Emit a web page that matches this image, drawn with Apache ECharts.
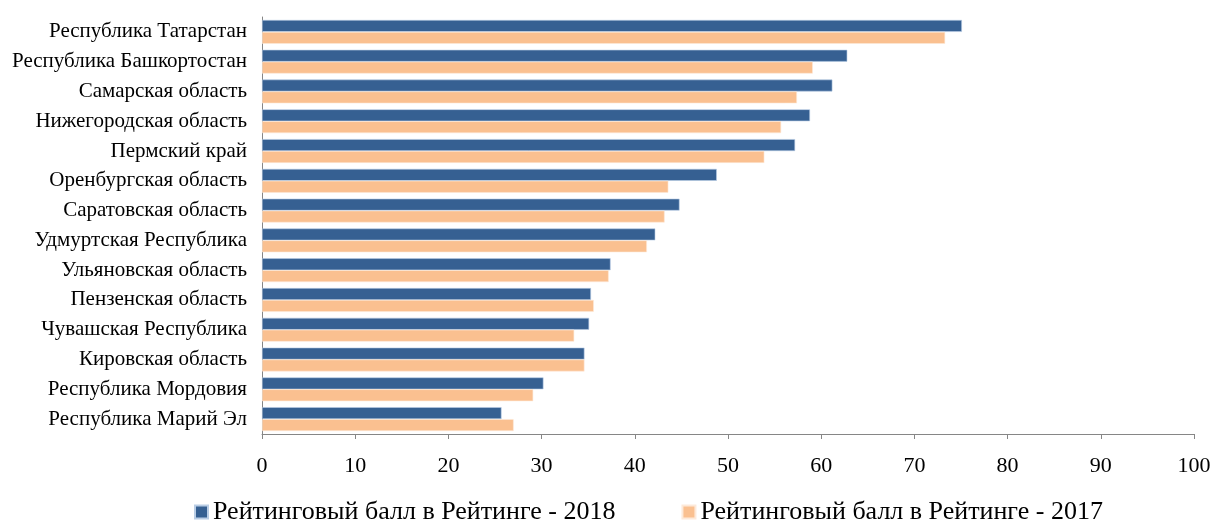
<!DOCTYPE html>
<html><head><meta charset="utf-8">
<script src="https://cdn.jsdelivr.net/npm/echarts@6/dist/echarts.min.js"></script>
<style>html,body{margin:0;padding:0;background:#fff}#c{width:1217px;height:523px}</style>
</head><body><div id="c"></div>
<script>
const categories = ["Республика Татарстан","Республика Башкортостан","Самарская область","Нижегородская область","Пермский край","Оренбургская область","Саратовская область","Удмуртская Республика","Ульяновская область","Пензенская область","Чувашская Республика","Кировская область","Республика Мордовия","Республика Марий Эл"];
const seriesNames = ["Рейтинговый балл в Рейтинге - 2018","Рейтинговый балл в Рейтинге - 2017"];
const values2018 = [75.1, 62.8, 61.2, 58.8, 57.2, 48.8, 44.8, 42.2, 37.4, 35.3, 35.1, 34.6, 30.2, 25.7];
const values2017 = [73.3, 59.1, 57.4, 55.7, 53.9, 43.6, 43.2, 41.3, 37.2, 35.6, 33.5, 34.6, 29.1, 27.0];
const xTicks = [0,10,20,30,40,50,60,70,80,90,100];

const font = "'Liberation Serif','Times New Roman',serif";
const chart = echarts.init(document.getElementById('c'), null, {renderer:'canvas'});
chart.setOption({
  animation:false,
  grid:{left:262,right:23,top:17,bottom:89,containLabel:false},
  legend:{
    top:499, left:194, padding:0, itemWidth:13, itemHeight:13, itemGap:66, icon:'rect',
    textStyle:{fontFamily:font,fontSize:26,color:'#000'},
    data:seriesNames
  },
  xAxis:{
    type:'value', min:xTicks[0], max:xTicks[xTicks.length-1], interval:10,
    axisLine:{show:true,lineStyle:{color:'#868686',width:1}},
    axisTick:{show:true,length:5,lineStyle:{color:'#868686'}},
    splitLine:{show:false},
    axisLabel:{fontFamily:font,fontSize:22,color:'#000',margin:21}
  },
  yAxis:{
    type:'category', inverse:true, data:categories,
    axisLine:{show:true,lineStyle:{color:'#868686',width:1}},
    axisTick:{show:false},
    axisLabel:{fontFamily:font,fontSize:21,color:'#000',margin:15}
  },
  series:[
    {name:seriesNames[0],type:'bar',data:values2018,barGap:'0%',barCategoryGap:'20%',
     itemStyle:{color:'#366092',borderColor:'#b9cde5',borderWidth:0.6}},
    {name:seriesNames[1],type:'bar',data:values2017,barGap:'0%',barCategoryGap:'20%',
     itemStyle:{color:'#fac090',borderColor:'#fde9d9',borderWidth:0.6}}
  ]
});
</script></body></html>
